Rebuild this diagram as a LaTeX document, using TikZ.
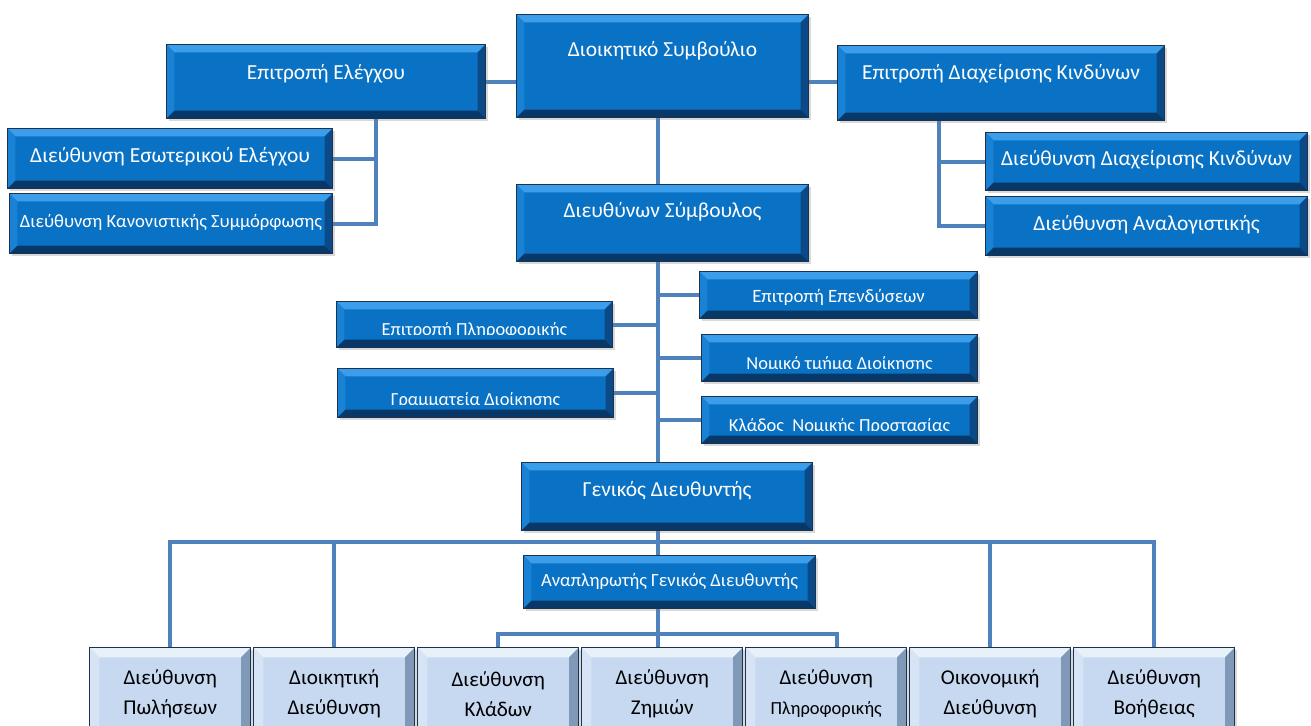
\documentclass[tikz,border=0pt]{standalone}
\usepackage{fontspec}
\setmainfont{Carlito}
\usetikzlibrary{shadows,backgrounds}

\definecolor{unitface}{HTML}{0A72C4}
\definecolor{unittop}{HTML}{3C9DEA}
\definecolor{unitleft}{HTML}{1A82D4}
\definecolor{unitright}{HTML}{0B4A86}
\definecolor{unitbottom}{HTML}{083868}
\definecolor{unitedge}{HTML}{1C3350}
\definecolor{deptface}{HTML}{C6D9F1}
\definecolor{depttop}{HTML}{E8F0FA}
\definecolor{deptleft}{HTML}{D6E4F5}
\definecolor{deptright}{HTML}{8099B8}
\definecolor{deptbottom}{HTML}{6E88A8}
\definecolor{linkblue}{HTML}{4F81BD}

% bevel: top, left, right, bottom colours and width
\newcommand\bevelpaint[5]{%
  \coordinate (bNW) at (path picture bounding box.north west);
  \coordinate (bNE) at (path picture bounding box.north east);
  \coordinate (bSW) at (path picture bounding box.south west);
  \coordinate (bSE) at (path picture bounding box.south east);
  \fill[#1] (bNW) -- (bNE) -- ([shift={(-#5,-#5)}]bNE) -- ([shift={(#5,-#5)}]bNW) -- cycle;
  \fill[#2] (bNW) -- ([shift={(#5,-#5)}]bNW) -- ([shift={(#5,#5)}]bSW) -- (bSW) -- cycle;
  \fill[#3] (bNE) -- (bSE) -- ([shift={(-#5,#5)}]bSE) -- ([shift={(-#5,-#5)}]bNE) -- cycle;
  \fill[#4] (bSW) -- ([shift={(#5,#5)}]bSW) -- ([shift={(-#5,#5)}]bSE) -- (bSE) -- cycle;
}

\tikzset{
  boxsize/.style 2 args={minimum width=#1*0.02cm, minimum height=#2*0.02cm},
  unit/.style={draw=unitedge, line width=0.6pt, fill=unitface, text=white,
    anchor=north west, inner sep=0pt, font=\fontsize{12.2}{14}\selectfont,
    text height=7pt, text depth=2pt,
    drop shadow={shadow xshift=1.2pt, shadow yshift=-1.5pt, opacity=0.3},
    path picture={\bevelpaint{unittop}{unitleft}{unitright}{unitbottom}{4.5pt}}},
  dept/.style={draw=unitedge, line width=0.8pt, fill=deptface, text=black,
    anchor=north west, inner sep=0pt, align=center,
    font=\fontsize{12}{17}\selectfont,
    drop shadow={shadow xshift=1.2pt, shadow yshift=-1.5pt, opacity=0.3},
    path picture={\bevelpaint{depttop}{deptleft}{deptright}{deptbottom}{5.5pt}}},
  lift/.style={text depth=#1},
  unittext/.style={text=white, inner sep=0pt, font=\fontsize{10.5}{12}\selectfont},
  link/.style={draw=linkblue, line width=2.3pt},
}

\begin{document}
\begin{tikzpicture}[x=0.02cm, y=-0.02cm]
    \useasboundingbox (0,0) rectangle (1311,725);
    \coordinate (AuditBus) at (376,0);
    \coordinate (RiskBus)  at (939,0);
    \coordinate (Trunk)    at (658,0);
    \coordinate (TopBus)   at (0,542);
    \coordinate (LowBus)   at (0,634);
    \coordinate (ITDrop)   at (837,0);
    % board and committees
    \node[unit, boxsize={292}{103}, lift=17.3pt] (Board) at (516,14) {Διοικητικό Συμβούλιο};
    \node[unit, boxsize={319}{74}, lift=8.8pt] (AuditCom) at (166,44) {Επιτροπή Ελέγχου};
    \node[unit, boxsize={327}{75}, lift=10.5pt] (RiskCom) at (837,45) {Επιτροπή Διαχείρισης Κινδύνων};
    \node[unit, boxsize={325}{60}] (IntAudit) at (7,128) {Διεύθυνση Εσωτερικού Ελέγχου};
    \node[unit, boxsize={323}{60}, font=\fontsize{10.6}{12}\selectfont] (Compliance) at (9,193) {Διεύθυνση Κανονιστικής Συμμόρφωσης};
    \node[unit, boxsize={322}{58}] (RiskDir) at (985,132) {Διεύθυνση Διαχείρισης Κινδύνων};
    \node[unit, boxsize={322}{59}] (Actuarial) at (985,196) {Διεύθυνση Αναλογιστικής};
    % chief executive and staff units
    \node[unit, boxsize={292}{77}, lift=12.8pt] (CEO) at (516,184) {Διευθύνων Σύμβουλος};
    \node[unit, boxsize={278}{47}, text height=11pt, font=\fontsize{10.7}{12}\selectfont] (InvestCom) at (699,271) {Επιτροπή Επενδύσεων};
    \node[unit, boxsize={276}{46}] (ITCom) at (336,301) {};
    \node[unit, boxsize={276}{47}] (LegalDept) at (701,334) {};
    \node[unit, boxsize={276}{49}] (Secretariat) at (337,368) {};
    \node[unit, boxsize={276}{47}] (LegalBranch) at (701,396) {};
    \foreach \unitname/\unitlabel in {ITCom/Επιτροπή Πληροφορικής, LegalDept/Νομικό τμήμα Διοίκησης,
        Secretariat/Γραμματεία Διοίκησης, LegalBranch/Κλάδος\ \ Νομικής Προστασίας} {
      \begin{scope}
        \clip ([shift={(4.5pt,0pt)}]\unitname.north west) rectangle ([shift={(-4.5pt,7.9pt)}]\unitname.south east);
        \node[unittext, anchor=base] (\unitname Text) at ([yshift=7.4pt]\unitname.south) {\unitlabel};
      \end{scope}
    }
    % general management
    \node[unit, boxsize={291}{68}, lift=6.5pt] (GenMgr) at (521,462) {Γενικός Διευθυντής};
    \node[unit, boxsize={292}{53}, font=\fontsize{10.6}{12}\selectfont] (DepGM) at (523,555) {Αναπληρωτής Γενικός Διευθυντής};
    \foreach \i/\lineA/\lineB in {1/Διεύθυνση/Πωλήσεων, 2/Διοικητική/Διεύθυνση, 3/Διεύθυνση/Κλάδων,
        4/Διεύθυνση/Ζημιών, 5/Διεύθυνση/{\fontsize{10.5}{12}\selectfont Πληροφορικής},
        6/Οικονομική/Διεύθυνση, 7/Διεύθυνση/Βοήθειας}
      \node[dept, boxsize={161}{92}] (Dept\i) at ({89+164*(\i-1)},647) {\lineA\\\lineB};
    % connectors
    \begin{scope}[on background layer]
      \draw[link] (AuditCom.east) -- (Board.west |- AuditCom.east);
      \draw[link] (Board.east |- AuditCom.east) -- (RiskCom.west |- AuditCom.east);
      \draw[link] (AuditCom.south -| AuditBus) |- (Compliance.east);
      \draw[link] (IntAudit.east) -- (IntAudit.east -| AuditBus);
      \draw[link] (RiskCom.south -| RiskBus) |- (Actuarial.west);
      \draw[link] (RiskDir.west) -- (RiskDir.west -| RiskBus);
      \draw[link] (Board.south -| Trunk) -- (CEO.north -| Trunk);
      \draw[link] (CEO.south -| Trunk) -- (GenMgr.north -| Trunk);
      \draw[link] (InvestCom.west) -- (InvestCom.west -| Trunk);
      \draw[link] (ITCom.east) -- (ITCom.east -| Trunk);
      \draw[link] (LegalDept.west) -- (LegalDept.west -| Trunk);
      \draw[link] (Secretariat.east) -- (Secretariat.east -| Trunk);
      \draw[link] (LegalBranch.west) -- (LegalBranch.west -| Trunk);
      \draw[link] (GenMgr.south -| Trunk) -- (DepGM.north -| Trunk);
      \draw[link] (Dept1.north) |- (Dept7.north |- TopBus) -- (Dept7.north);
      \draw[link] (Dept2.north) -- (Dept2.north |- TopBus);
      \draw[link] (Dept6.north) -- (Dept6.north |- TopBus);
      \draw[link] (DepGM.south -| Trunk) -- (Dept4.north -| Trunk);
      \draw[link] (Dept3.north) |- (LowBus -| ITDrop) -- (Dept5.north -| ITDrop);
    \end{scope}
\end{tikzpicture}
\end{document}
